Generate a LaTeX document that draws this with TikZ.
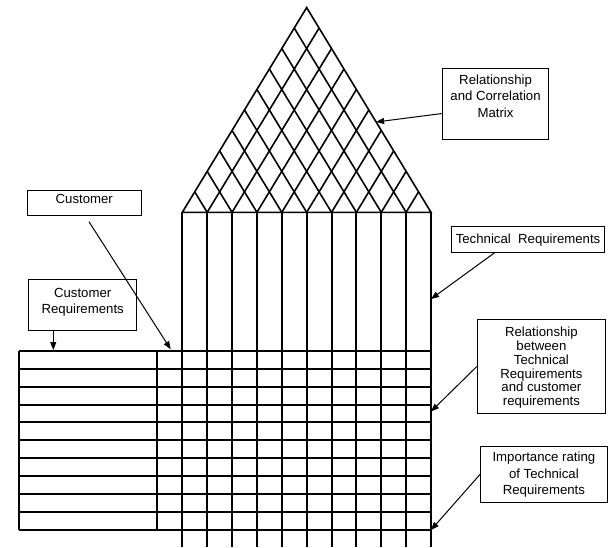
\documentclass[tikz,border=0pt]{standalone}
\usepackage{fontspec}
\setmainfont{Liberation Sans}
\usetikzlibrary{arrows.meta}
\newcommand{\boxtxt}[5]{\parbox[c][#1pt][t]{#2pt}{\fontsize{13.2}{#3}\selectfont\centering\vspace*{#4pt}#5\par}}
\begin{document}
\begin{tikzpicture}[x=1pt,y=-1pt,
  roofline/.style={line width=1.6pt},
  gridline/.style={line width=2pt},
  labelbox/.style={draw, line width=1.1pt, inner sep=0pt, anchor=north west, fill=white},
  pointer/.style={line width=1pt, -{Triangle[length=8pt,width=6pt]}}]
\useasboundingbox (0,0) rectangle (612,547);
\def\xz{182.3}\def\dx{24.87}\def\yb{212.3}\def\kk{1.6461}
\pgfmathsetmacro{\xt}{\xz+10*\dx}
% roof outline
\pgfmathsetmacro{\xa}{(\xz+\xt)/2}
\pgfmathsetmacro{\ya}{\yb-\kk*(\xt-\xz)/2}
\coordinate (bl) at (\xz,\yb);
\coordinate (br) at (\xt,\yb);
\coordinate (apex) at (\xa,\ya);
\draw[roofline, line join=miter] (bl) -- (apex) -- (br) -- cycle;
% roof lattice
\foreach \i in {1,...,9}{
  \pgfmathsetmacro{\xi}{\xz+\i*\dx}
  \pgfmathsetmacro{\xr}{(\xi+\xt)/2}
  \pgfmathsetmacro{\yr}{\yb-\kk*(\xt-\xi)/2}
  \pgfmathsetmacro{\xl}{(\xz+\xi)/2}
  \pgfmathsetmacro{\yl}{\yb-\kk*(\xi-\xz)/2}
  \draw[roofline] (\xi,\yb) -- (\xr,\yr);
  \draw[roofline] (\xi,\yb) -- (\xl,\yl);
}
% columns
\foreach \i in {0,...,10}{
  \pgfmathsetmacro{\xi}{\xz+\i*\dx}
  \draw[gridline] (\xi,\yb) -- (\xi,547);
}
% rows
\foreach \j in {0,...,10}{
  \pgfmathsetmacro{\yj}{350.7+\j*17.93}
  \draw[gridline] (19.3,\yj) -- (\xt,\yj);
}
\draw[gridline] (19.3,350.7) -- (19.3,530);
\draw[gridline] (157,350.7) -- (157,530);
% label boxes
\node[labelbox] (rcm) at (441.7,67.7) {\boxtxt{71.6}{106.6}{16.5}{6.4}{Relationship\\and Correlation\\Matrix}};
\node[labelbox] (tr) at (451,225.7) {\boxtxt{26}{153}{16}{7.2}{Technical\ \ Requirements}};
\node[labelbox] (rbt) at (476.7,319) {\boxtxt{94}{128.3}{13.8}{7.6}{Relationship\\between\\Technical\\Requirements\\and customer\\requirements}};
\node[labelbox] (imp) at (480,446) {\boxtxt{55.7}{126.7}{16.6}{5.6}{Importance rating\\of Technical\\Requirements}};
\node[labelbox] (cust) at (26.7,190) {\boxtxt{25}{114}{16}{3.6}{Customer}};
\node[labelbox] (creq) at (28.3,279.3) {\boxtxt{50.7}{107.7}{16}{8.4}{Customer\\Requirements}};
% pointer targets
\coordinate (tRoof) at (376.1,122);
\coordinate (tTech) at (\xt,299);
\coordinate (tRel) at (\xt,411.5);
\coordinate (tImp) at (\xt,530);
\coordinate (tCust) at (170.7,349.3);
\coordinate (tCreq) at (53.3,350);
\coordinate (sCust) at (89,221.7);
% pointers
\draw[pointer] (rcm.190) -- (tRoof);
\draw[pointer] (tr.202) -- (tTech);
\draw[pointer] (rbt.west) -- (tRel);
\draw[pointer] (imp.west) -- (tImp);
\draw[pointer] (sCust) -- (tCust);
\draw[pointer] (creq.south -| tCreq) -- (tCreq);
\end{tikzpicture}
\end{document}
